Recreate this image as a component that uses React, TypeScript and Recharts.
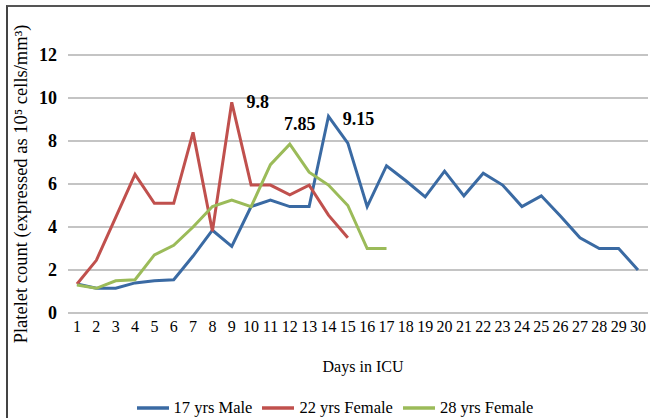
import { LineChart, Line, XAxis, YAxis, CartesianGrid, Legend } from 'recharts';

const days = ['1', '2', '3', '4', '5', '6', '7', '8', '9', '10', '11', '12', '13', '14', '15',
  '16', '17', '18', '19', '20', '21', '22', '23', '24', '25', '26', '27', '28', '29', '30'];

// platelet counts, x10^5 cells/mm3
const male17 = [1.35, 1.15, 1.15, 1.4, 1.5, 1.55, 2.65, 3.85, 3.1, 4.95, 5.25, 4.95, 4.95, 9.15, 7.9,
  4.95, 6.85, 6.15, 5.4, 6.6, 5.45, 6.5, 5.95, 4.95, 5.45, 4.5, 3.5, 3.0, 3.0, 2.0];
const female22 = [1.35, 2.45, 4.45, 6.45, 5.1, 5.1, 8.4, 3.8, 9.8, 5.95, 5.95, 5.5, 5.95, 4.55, 3.5];
const female28 = [1.3, 1.15, 1.5, 1.55, 2.7, 3.15, 4.0, 4.95, 5.25, 4.95, 6.9, 7.85, 6.55, 5.95, 5.0, 3.0, 3.0];

const yTicks = [0, 2, 4, 6, 8, 10, 12];

const data = days.map((d, i) => ({
  day: d,
  male17: male17[i] ?? null,
  female22: female22[i] ?? null,
  female28: female28[i] ?? null,
}));

const FONT = '"Liberation Serif", "Times New Roman", serif';

// only the peak point of each series gets its value written next to it
const peakLabel = (peakIndex: number, dx: number, dy: number) => (props: any) => {
  const { x, y, value, index } = props;
  if (index !== peakIndex) return null;
  return (
    <text x={x + dx} y={y + dy} textAnchor="middle" dominantBaseline="central"
      fontFamily={FONT} fontSize={18} fontWeight="bold" fill="#000">
      {value}
    </text>
  );
};

const LegendContent = ({ payload }: any) => (
  <div style={{ display: 'flex', justifyContent: 'center', alignItems: 'flex-start', height: 40, paddingTop: 21, paddingLeft: 22, boxSizing: 'border-box', fontFamily: FONT, fontSize: 16.5, lineHeight: '18px', color: '#000', overflow: 'visible' }}>
    {(payload || []).map((p: any) => (
      <div key={p.value} style={{ display: 'flex', alignItems: 'center', margin: '0 5px' }}>
        <svg width={32} height={6} style={{ marginRight: 5 }}>
          <line x1={0} y1={3} x2={32} y2={3} stroke={p.color} strokeWidth={3.5} />
        </svg>
        <span>{p.value}</span>
      </div>
    ))}
  </div>
);

const YTitle = () => (
  <text x={21} y={184} transform="rotate(-90 21 184)" textAnchor="middle" dominantBaseline="central"
    fontFamily={FONT} fontSize={18.5} fill="#000">
    Platelet count (expressed as 10⁵ cells/mm³)
  </text>
);

export default function App() {
  return (
    <div style={{ position: 'absolute', left: 0, top: 0, width: 650, height: 418, background: '#fff' }}>
      <div style={{ position: 'absolute', left: 6, top: 5, right: 0, bottom: 0, borderLeft: '2px solid #444', borderTop: '2px solid #555' }} />
      <LineChart
        width={650}
        height={418}
        data={data}
        margin={{ top: 55, right: 2, left: 0, bottom: 0 }}
        style={{ fontFamily: FONT, position: 'absolute', left: 0, top: 0 }}
      >
        <CartesianGrid vertical={false} stroke="#c4c4c4" strokeWidth={1.8} />
        <XAxis
          dataKey="day"
          height={65}
          padding={{ left: 9, right: 10 }}
          axisLine={false}
          tickLine={false}
          interval={0}
          tick={{ fill: '#000', fontSize: 16, fontFamily: FONT }}
          label={{ value: 'Days in ICU', position: 'insideBottom', offset: 6, dx: 5, fill: '#000', fontSize: 16, fontFamily: FONT }}
        />
        <YAxis
          width={68}
          domain={[0, 12]}
          ticks={yTicks}
          axisLine={false}
          tickLine={false}
          tickMargin={5}
          tick={{ fill: '#000', fontSize: 18, fontWeight: 'bold', fontFamily: FONT }}
          label={<YTitle />}
        />
        <Legend verticalAlign="bottom" content={<LegendContent />} />
        <Line name="17 yrs Male" dataKey="male17" stroke="#3a6aa3" strokeWidth={3} dot={false}
          isAnimationActive={false} label={peakLabel(13, 30, 3)} />
        <Line name="22 yrs Female" dataKey="female22" stroke="#c0504d" strokeWidth={3} dot={false}
          isAnimationActive={false} label={peakLabel(8, 26, 0)} />
        <Line name="28 yrs Female" dataKey="female28" stroke="#9bbb59" strokeWidth={3} dot={false}
          isAnimationActive={false} label={peakLabel(11, 10, -20)} />
      </LineChart>
    </div>
  );
}
